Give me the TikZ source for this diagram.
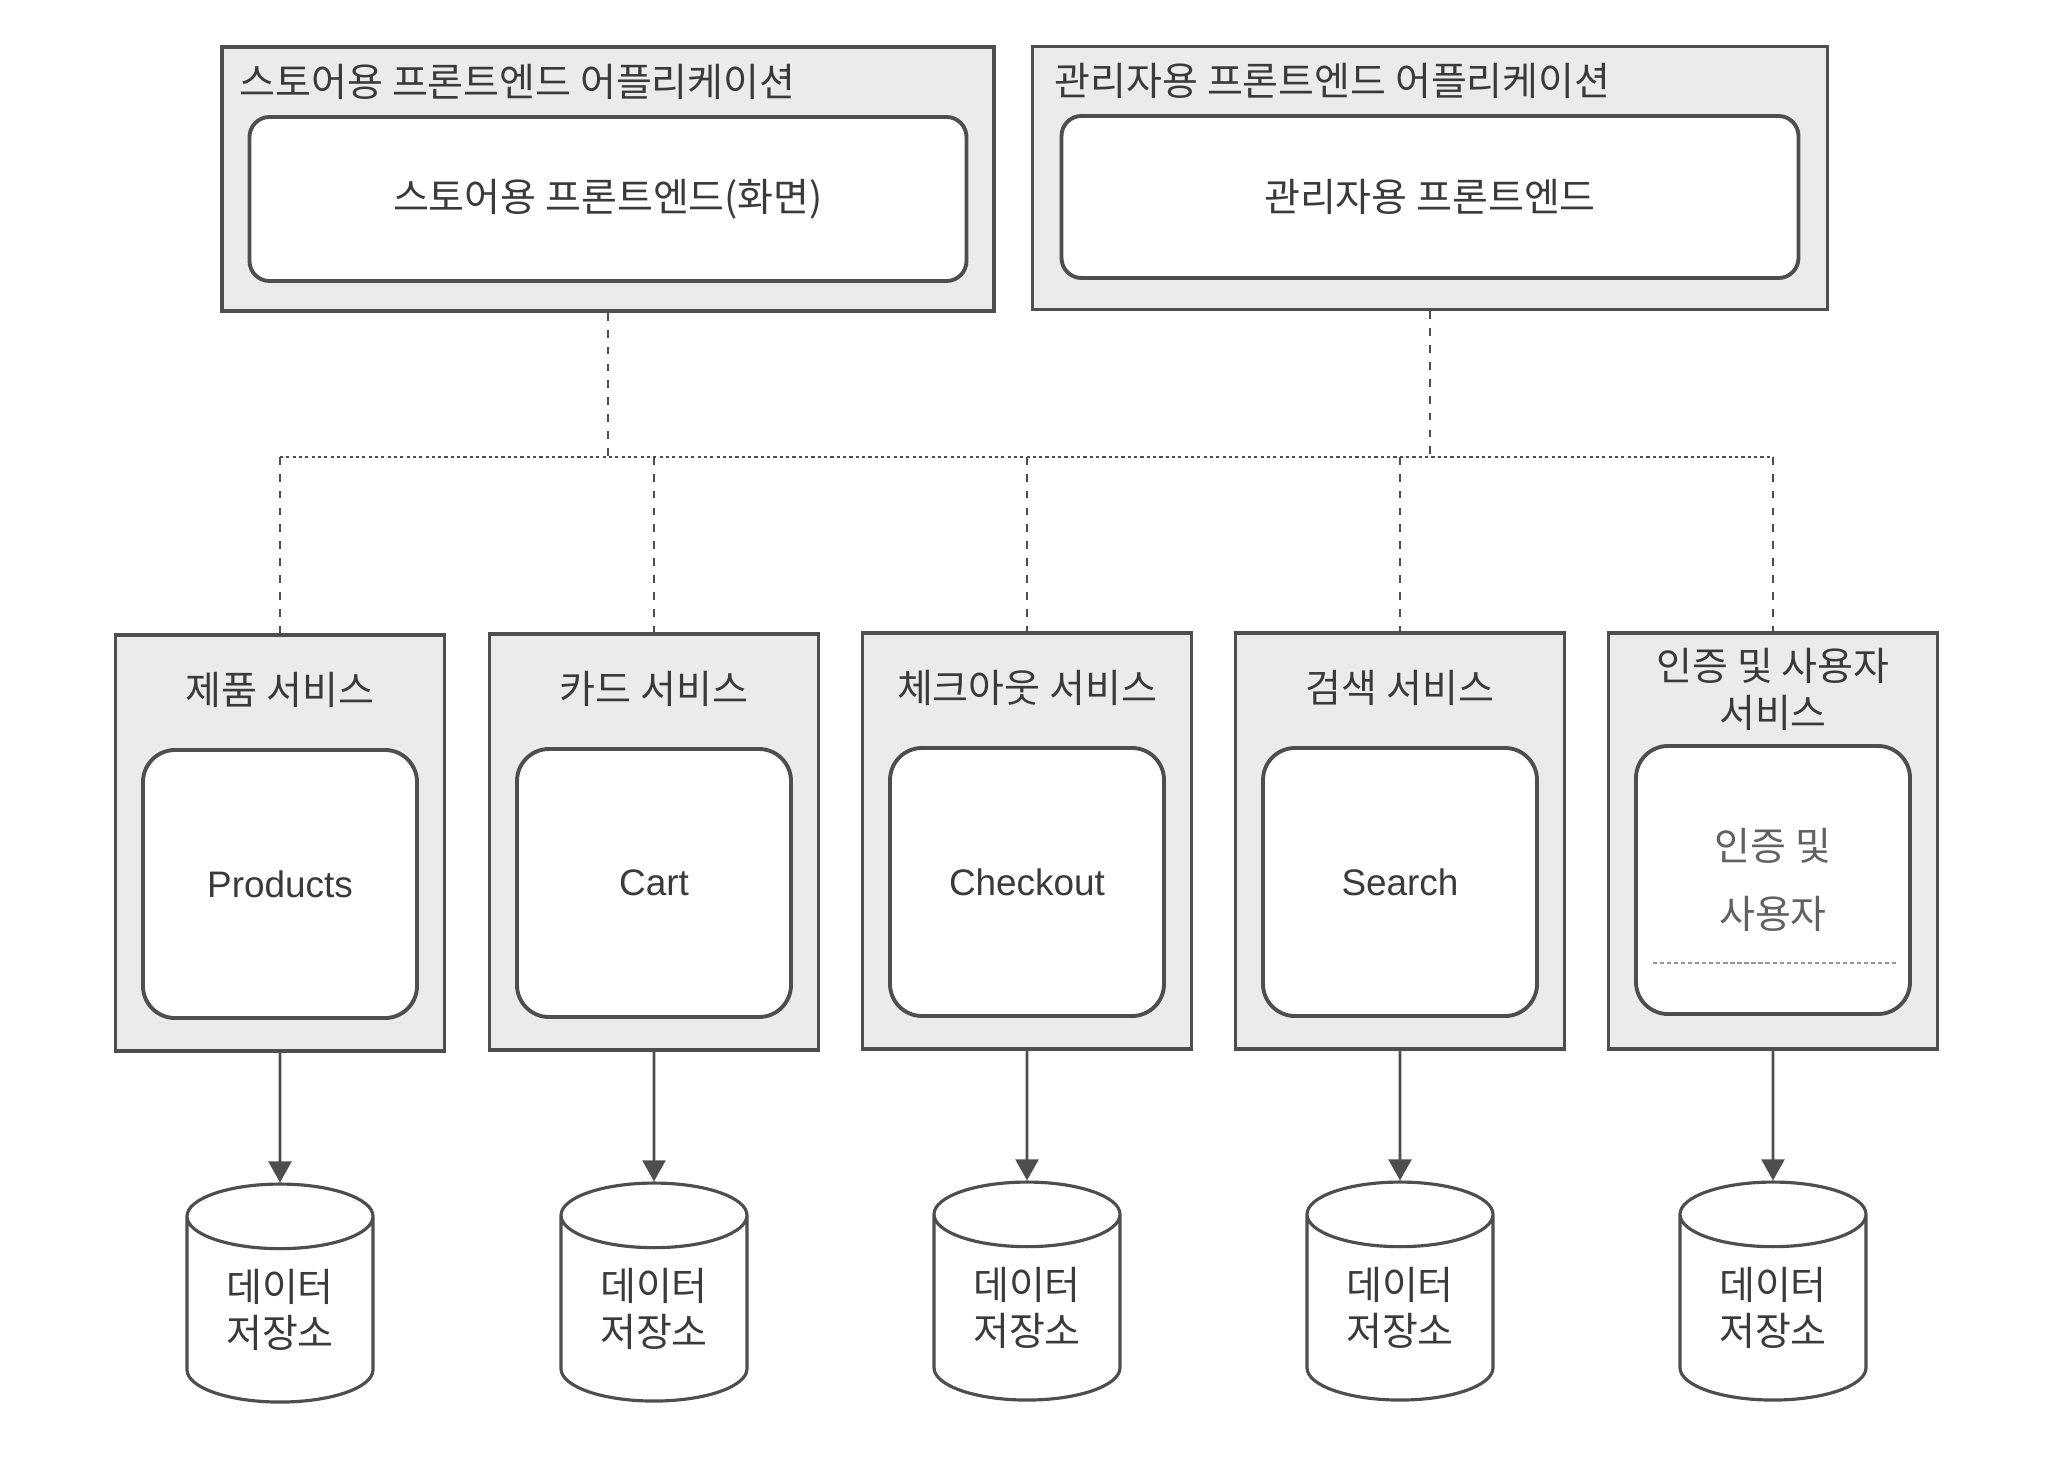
\documentclass[tikz,border=0pt]{standalone}
\usepackage{fontspec}
\setmainfont{Noto Sans CJK KR}
\newfontfamily\latinfont{Liberation Sans}
\usepackage{tikz}
\usetikzlibrary{arrows.meta}
\usetikzlibrary{shapes.geometric}
\usepackage{xcolor}
\definecolor{boxline}{HTML}{4E4E4E}
\definecolor{boxfill}{HTML}{EBEBEB}
\definecolor{inktext}{HTML}{3A3A3A}
\newcommand{\svcfont}{\fontsize{11.1}{13.2}\selectfont}
\newcommand{\codefont}{\latinfont\fontsize{10.5}{12.5}\selectfont}

\begin{document}
\begin{tikzpicture}[font=\svcfont,text=inktext]
\tikzstyle{every node}=[inner sep=0pt,align=center]
\tikzstyle{outerbox}=[draw=boxline,fill=boxfill,line width=1.1pt]
\tikzstyle{innerbox}=[draw=boxline,fill=white,line width=1.1pt,rounded corners=0.32cm,minimum width=2.74cm,minimum height=2.68cm]
\tikzstyle{svcbox}=[outerbox,minimum width=3.29cm,minimum height=4.16cm]
\tikzstyle{vlink}=[draw=boxline,line width=0.6pt,dash pattern=on 2.2pt off 2.6pt]
\tikzstyle{hlink}=[draw=boxline,line width=0.6pt,dash pattern=on 0.9pt off 0.9pt]
\tikzstyle{datastore}=[draw=boxline,fill=white,line width=0.9pt,cylinder,shape border rotate=90,aspect=0.6,minimum width=1.86cm,minimum height=2.18cm]
\tikzstyle{feed}=[draw=boxline,line width=0.8pt,-{Triangle[width=6.5pt,length=6pt]}]
\useasboundingbox (0,0) rectangle (20.46,-14.58);

\node[outerbox,minimum width=7.72cm,minimum height=2.64cm] (a) at (6.08,-1.79) {};
\node[anchor=west] (a0) at (2.39,-0.82) {스토어용 프론트엔드 어플리케이션};
\node[innerbox,rounded corners=0.2cm,minimum width=7.17cm,minimum height=1.64cm] (a1) at (6.08,-1.99) {스토어용 프론트엔드(화면)};

\node[outerbox,minimum width=7.95cm,minimum height=2.63cm] (b) at (14.30,-1.78) {};
\node[anchor=west] (b0) at (10.54,-0.81) {관리자용 프론트엔드 어플리케이션};
\node[innerbox,rounded corners=0.2cm,minimum width=7.37cm,minimum height=1.62cm] (b1) at (14.30,-1.97) {관리자용 프론트엔드};

\node[svcbox] (s1) at (2.80,-8.43) {};
\node (t1) at (2.80,-6.90) {제품 서비스};
\node[innerbox,font=\codefont] (i1) at (2.80,-8.84) {Products};
\node[datastore] (d1) at (2.80,-13.10) {데이터\\저장소};

\node[svcbox] (s2) at (6.54,-8.42) {};
\node (t2) at (6.54,-6.89) {카드 서비스};
\node[innerbox,font=\codefont] (i2) at (6.54,-8.83) {Cart};
\node[datastore] (d2) at (6.54,-13.09) {데이터\\저장소};

\node[svcbox] (s3) at (10.27,-8.41) {};
\node (t3) at (10.27,-6.88) {체크아웃 서비스};
\node[innerbox,font=\codefont] (i3) at (10.27,-8.82) {Checkout};
\node[datastore] (d3) at (10.27,-13.08) {데이터\\저장소};

\node[svcbox] (s4) at (14.00,-8.41) {};
\node (t4) at (14.00,-6.88) {검색 서비스};
\node[innerbox,font=\codefont] (i4) at (14.00,-8.82) {Search};
\node[datastore] (d4) at (14.00,-13.08) {데이터\\저장소};

\node[svcbox] (s5) at (17.73,-8.41) {};
\node[font=\fontsize{11.1}{13.4}\selectfont] (t5) at (17.73,-6.89) {인증 및 사용자\\서비스};
\node[innerbox,text=inktext!80] (i5) at (17.73,-8.80) {인증 및\\[6pt]사용자};
\node[datastore] (d5) at (17.73,-13.08) {데이터\\저장소};
\coordinate (l5) at (16.53,-9.63);
\coordinate (r5) at (18.97,-9.63);
\draw[draw=boxline!60,line width=0.4pt,dash pattern=on 1.2pt off 0.8pt] (l5) -- (r5);

\coordinate (bus) at (0,-4.57);
\draw[vlink] (a.south) -- (a.south |- bus);
\draw[vlink] (b.south) -- (b.south |- bus);
\draw[hlink] (s1.north |- bus) -- (s5.north |- bus);
\draw[vlink] (s1.north |- bus) -- (s1.north);
\draw[vlink] (s2.north |- bus) -- (s2.north);
\draw[vlink] (s3.north |- bus) -- (s3.north);
\draw[vlink] (s4.north |- bus) -- (s4.north);
\draw[vlink] (s5.north |- bus) -- (s5.north);

\draw[feed] (s1.south) -- (d1.north);
\draw[feed] (s2.south) -- (d2.north);
\draw[feed] (s3.south) -- (d3.north);
\draw[feed] (s4.south) -- (d4.north);
\draw[feed] (s5.south) -- (d5.north);
\end{tikzpicture}
\end{document}
